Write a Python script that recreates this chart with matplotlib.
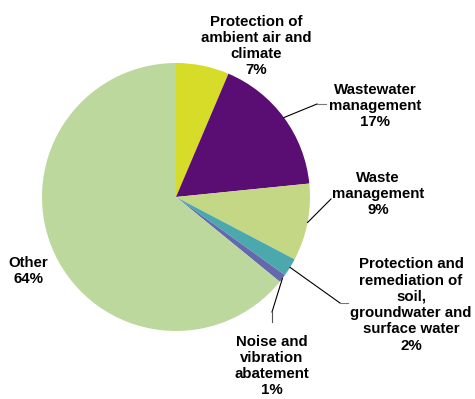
import numpy as np
from matplotlib import pyplot as plt
from matplotlib.lines import Line2D

categories = ["Protection of\nambient air and\nclimate", "Wastewater\nmanagement", "Waste\nmanagement",
              "Protection and\nremediation of\nsoil,\ngroundwater and\nsurface water",
              "Noise and\nvibration\nabatement", "Other"]
values = [6.4, 17.0, 9.3, 2.2, 1.0, 64.1]
pct_labels = ["7%", "17%", "9%", "2%", "1%", "64%"]
colors = ["#d6dc28", "#5a0e73", "#c4d784", "#4ba9ae", "#6468ac", "#bcd89d"]

W, H = 475, 399


def px(x, y):
    # pixel (top-left origin) to figure fraction
    return x / W, 1 - y / H


plt.rcParams['font.family'] = ['Liberation Sans', 'DejaVu Sans']
fig = plt.figure(figsize=(4.75, 3.99), dpi=100)
cx, cy, r = 176, 197, 134
ax = fig.add_axes([(cx - r) / W, (H - cy - r) / H, 2 * r / W, 2 * r / H])
wedges, _ = ax.pie(values, colors=colors, startangle=90, counterclock=False,
                   wedgeprops=dict(linewidth=0))
ax.set_xlim(-1, 1)
ax.set_ylim(-1, 1)
ax.set_aspect('equal')
ax.axis('off')

# label centres in pixels
label_pos = [(256, 46), (375, 106), (378, 194), (411, 305), (272, 366), (28, 271)]
for cat, pct, (x, y) in zip(categories, pct_labels, label_pos):
    fig.text(*px(x, y), cat + "\n" + pct, ha='center', va='center',
             fontsize=10.8, fontweight='bold', color='black')


def edge_point(i, frac=0.5):
    w = wedges[i]
    ang = np.deg2rad(w.theta1 + frac * (w.theta2 - w.theta1))
    return cx + r * np.cos(ang), cy - r * np.sin(ang)


def leader(points, color='black'):
    xs, ys = zip(*[px(x, y) for x, y in points])
    fig.add_artist(Line2D(xs, ys, transform=fig.transFigure, color=color, lw=0.8))


leader([edge_point(1), (317, 104)])
leader([(317, 104), (326, 104)], color='#777777')
leader([edge_point(2), (331, 199)])
leader([edge_point(3), (340, 303)])
leader([(340, 303), (348, 303)], color='#777777')
leader([edge_point(4), (272, 312)])
leader([(272, 312), (272, 322)], color='#555555')

fig.savefig("out.png", dpi=100)
